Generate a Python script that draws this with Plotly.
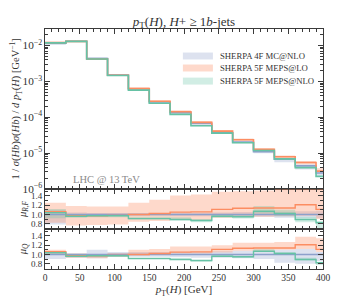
import plotly.graph_objects as go
from plotly.subplots import make_subplots

# ---- data ----
bin_edges = [0, 30, 60, 90, 120, 150, 180, 210, 240, 270, 300, 330, 360, 390, 400]
series_names = ["SHERPA 4F MC@NLO", "SHERPA 5F MEPS@LO", "SHERPA 5F MEPS@NLO"]

blue_main = [1.15e-2, 1.32e-2, 4.3e-3, 1.5e-3, 6.2e-4, 2.65e-4, 1.33e-4, 6.7e-5, 3.7e-5, 2.05e-5, 1.1e-5, 6.8e-6, 4.4e-6, 2.8e-6]
orange_main = [1.2e-2, 1.3e-2, 4.2e-3, 1.48e-3, 6.3e-4, 2.8e-4, 1.43e-4, 7.2e-5, 4.1e-5, 2.35e-5, 1.28e-5, 7.9e-6, 5.5e-6, 3.15e-6]
green_main = [1.18e-2, 1.3e-2, 4.2e-3, 1.46e-3, 5.7e-4, 2.45e-4, 1.2e-4, 5.8e-5, 3.6e-5, 1.95e-5, 1.18e-5, 6.9e-6, 3.95e-6, 2.25e-6]

blue_ratio = [1.0] * 14
orange_ratio = [1.06, 0.97, 0.97, 0.98, 1.0, 1.02, 1.05, 1.055, 1.11, 1.135, 1.14, 1.14, 1.21, 1.11]
green_ratio = [1.04, 0.96, 0.97, 0.97, 0.91, 0.91, 0.89, 0.87, 0.96, 0.95, 1.07, 1.02, 0.89, 0.82]

# mu_R,F bands
blue_rf_lo = [0.78, 0.95, 0.96, 0.97, 0.97, 0.97, 0.96, 0.96, 0.96, 0.95, 0.95, 0.93, 0.93, 0.92]
blue_rf_hi = [1.1, 1.04, 1.03, 1.03, 1.03, 1.03, 1.04, 1.04, 1.04, 1.05, 1.05, 1.06, 1.07, 1.08]
orange_rf_lo = [0.82, 0.76, 0.77, 0.78, 0.84, 0.86, 0.89, 0.87, 0.93, 0.94, 0.95, 0.96, 0.97, 0.9]
orange_rf_hi = [1.25, 1.18, 1.17, 1.17, 1.25, 1.32, 1.41, 1.43, 1.49, 1.5, 1.52, 1.55, 1.6, 1.6]
green_rf_lo = [0.92, 0.93, 0.94, 0.94, 0.89, 0.89, 0.87, 0.83, 0.93, 0.91, 1.02, 0.96, 0.83, 0.62]
green_rf_hi = [1.12, 1.01, 1.0, 1.0, 0.95, 0.95, 0.94, 0.9, 1.01, 1.0, 1.18, 1.1, 0.95, 0.86]

# mu_Q bands
blue_q_lo = [0.9, 0.93, 0.92, 0.95, 0.95, 0.95, 0.94, 0.93, 0.93, 0.92, 0.9, 0.82, 0.8, 0.85]
blue_q_hi = [1.07, 1.02, 1.1, 1.05, 1.05, 1.05, 1.06, 1.06, 1.07, 1.08, 1.08, 1.1, 1.12, 1.05]
orange_q_lo = [1.0, 0.93, 0.92, 0.95, 0.98, 1.0, 1.02, 1.02, 1.04, 1.08, 1.08, 1.1, 1.12, 1.05]
orange_q_hi = [1.1, 1.02, 1.0, 1.03, 1.1, 1.12, 1.17, 1.17, 1.2, 1.25, 1.25, 1.27, 1.38, 1.35]
green_q_lo = [1.0, 0.95, 0.95, 0.95, 0.9, 0.9, 0.88, 0.84, 0.95, 0.93, 1.05, 0.99, 0.87, 0.77]
green_q_hi = [1.06, 0.99, 0.99, 0.99, 0.94, 0.94, 0.92, 0.88, 0.99, 0.97, 1.11, 1.05, 0.93, 0.83]

x_ticks = [0, 50, 100, 150, 200, 250, 300, 350, 400]
ratio_ticks = [0.8, 1.0, 1.2, 1.4]

# ---- style ----
line_cols = ["#8da0cb", "#fc8d62", "#66c2a5"]
band_cols = ["rgba(141,160,203,0.30)", "rgba(252,141,98,0.33)", "rgba(102,194,165,0.30)"]
FONT = "Liberation Serif"
FRAME = "#3a3a3a"

fig = make_subplots(rows=3, cols=1, shared_xaxes=True, vertical_spacing=0,
                    row_heights=[160, 40, 40])


def step(vals):
    return list(vals) + [vals[-1]]


def add_band(lo, hi, color, row):
    fig.add_trace(go.Scatter(x=bin_edges, y=step(lo), mode="lines", line=dict(width=0, shape="hv"),
                             showlegend=False, hoverinfo="skip"), row=row, col=1)
    fig.add_trace(go.Scatter(x=bin_edges, y=step(hi), mode="lines", line=dict(width=0, shape="hv"),
                             fill="tonexty", fillcolor=color, showlegend=False, hoverinfo="skip"),
                  row=row, col=1)


def add_line(vals, color, row, width=1.6):
    fig.add_trace(go.Scatter(x=bin_edges, y=step(vals), mode="lines",
                             line=dict(color=color, width=width, shape="hv"), showlegend=False),
                  row=row, col=1)


mains = [blue_main, orange_main, green_main]
ratios = [blue_ratio, orange_ratio, green_ratio]
q_bands = [(blue_q_lo, blue_q_hi), (orange_q_lo, orange_q_hi), (green_q_lo, green_q_hi)]
rf_bands = [(blue_rf_lo, blue_rf_hi), (orange_rf_lo, orange_rf_hi), (green_rf_lo, green_rf_hi)]

# main panel bands (scale uncertainty relative to reference)
for i in range(3):
    lo = [b * l for b, l in zip(blue_main, q_bands[i][0])]
    hi = [b * h for b, h in zip(blue_main, q_bands[i][1])]
    add_band(lo, hi, band_cols[i], 1)
for i in range(3):
    add_line(mains[i], line_cols[i], 1)

for i in range(3):
    add_band(rf_bands[i][0], rf_bands[i][1], band_cols[i], 2)
for i in range(3):
    add_line(ratios[i], line_cols[i], 2, 1.4)

for i in range(3):
    add_band(q_bands[i][0], q_bands[i][1], band_cols[i], 3)
for i in range(3):
    add_line(ratios[i], line_cols[i], 3, 1.4)

axis_common = dict(showline=True, linecolor=FRAME, linewidth=1.1, mirror="ticks",
                   ticks="inside", tickcolor=FRAME, ticklen=5, showgrid=False, zeroline=False,
                   automargin=False,
                   tickfont=dict(family=FONT, size=9, color="#333"))

for r in (1, 2, 3):
    fig.update_xaxes(range=[0, 400], tickvals=x_ticks, showticklabels=(r == 3),
                     minor=dict(ticks="inside", ticklen=2.5, tickcolor=FRAME, dtick=10, showgrid=False),
                     row=r, col=1, **axis_common)

fig.update_xaxes(title=dict(text="<i>p</i><sub>T</sub>(<i>H</i>) [GeV]", standoff=1,
                            font=dict(family=FONT, size=11, color="#333")),
                 tickfont=dict(family=FONT, size=9.5, color="#333"), row=3, col=1)

fig.update_yaxes(type="log", range=[-6, -1.54], dtick=1, exponentformat="power",
                 minor=dict(ticks="inside", ticklen=2.5, tickcolor=FRAME, showgrid=False),
                 title=dict(text="1 / <i>σ</i>(<i>Hb</i>)<i>σ</i>(<i>Hb</i>) / <i>d p</i><sub>T</sub>(<i>H</i>) [GeV<sup>−1</sup>]",
                            font=dict(family=FONT, size=10.5, color="#333"), standoff=3),
                 row=1, col=1, **axis_common)

for r, t in ((2, "<i>μ</i><sub><i>R,F</i></sub>"), (3, "<i>μ</i><sub><i>Q</i></sub>")):
    fig.update_yaxes(range=[0.685, 1.55], tickvals=ratio_ticks, ticktext=["0.8", "1.0", "1.2", "1.4"],
                     minor=dict(ticks="inside", ticklen=2.5, tickcolor=FRAME, dtick=0.1, showgrid=False),
                     title=dict(text=t, font=dict(family=FONT, size=10.5, color="#333"), standoff=2),
                     row=r, col=1, **axis_common)

# manual legend
legend_rows = [0.8875, 0.8375, 0.783]
for i in range(3):
    y0 = legend_rows[i]
    fig.add_shape(type="rect", xref="paper", yref="paper", x0=0.496, x1=0.604,
                  y0=y0 - 0.0145, y1=y0 + 0.0145, fillcolor=band_cols[i], line=dict(width=0))
    fig.add_annotation(xref="paper", yref="paper", x=0.622, y=y0, text=series_names[i],
                       showarrow=False, xanchor="left", yanchor="middle",
                       font=dict(family=FONT, size=8.7, color="#333"))

fig.add_annotation(xref="paper", yref="paper", x=0.095, y=0.372, text="LHC @ 13 TeV",
                   showarrow=False, xanchor="left", yanchor="middle",
                   font=dict(family=FONT, size=10.5, color="#8a8a8a"))

# page body has an 8px margin, so the figure is sized/offset to land at the reference positions
fig.update_layout(
    width=352, height=292,
    margin=dict(l=37, r=37, t=21, b=31),
    paper_bgcolor="white", plot_bgcolor="white",
    showlegend=False,
    title=dict(text="<i>p</i><sub>T</sub>(<i>H</i>), <i>H</i>+ ≥ 1<i>b</i>-jets",
               x=0.5, xref="paper", xanchor="center", y=0.955, yanchor="middle",
               font=dict(family=FONT, size=13, color="#333")),
)

fig.write_html("out.html")
